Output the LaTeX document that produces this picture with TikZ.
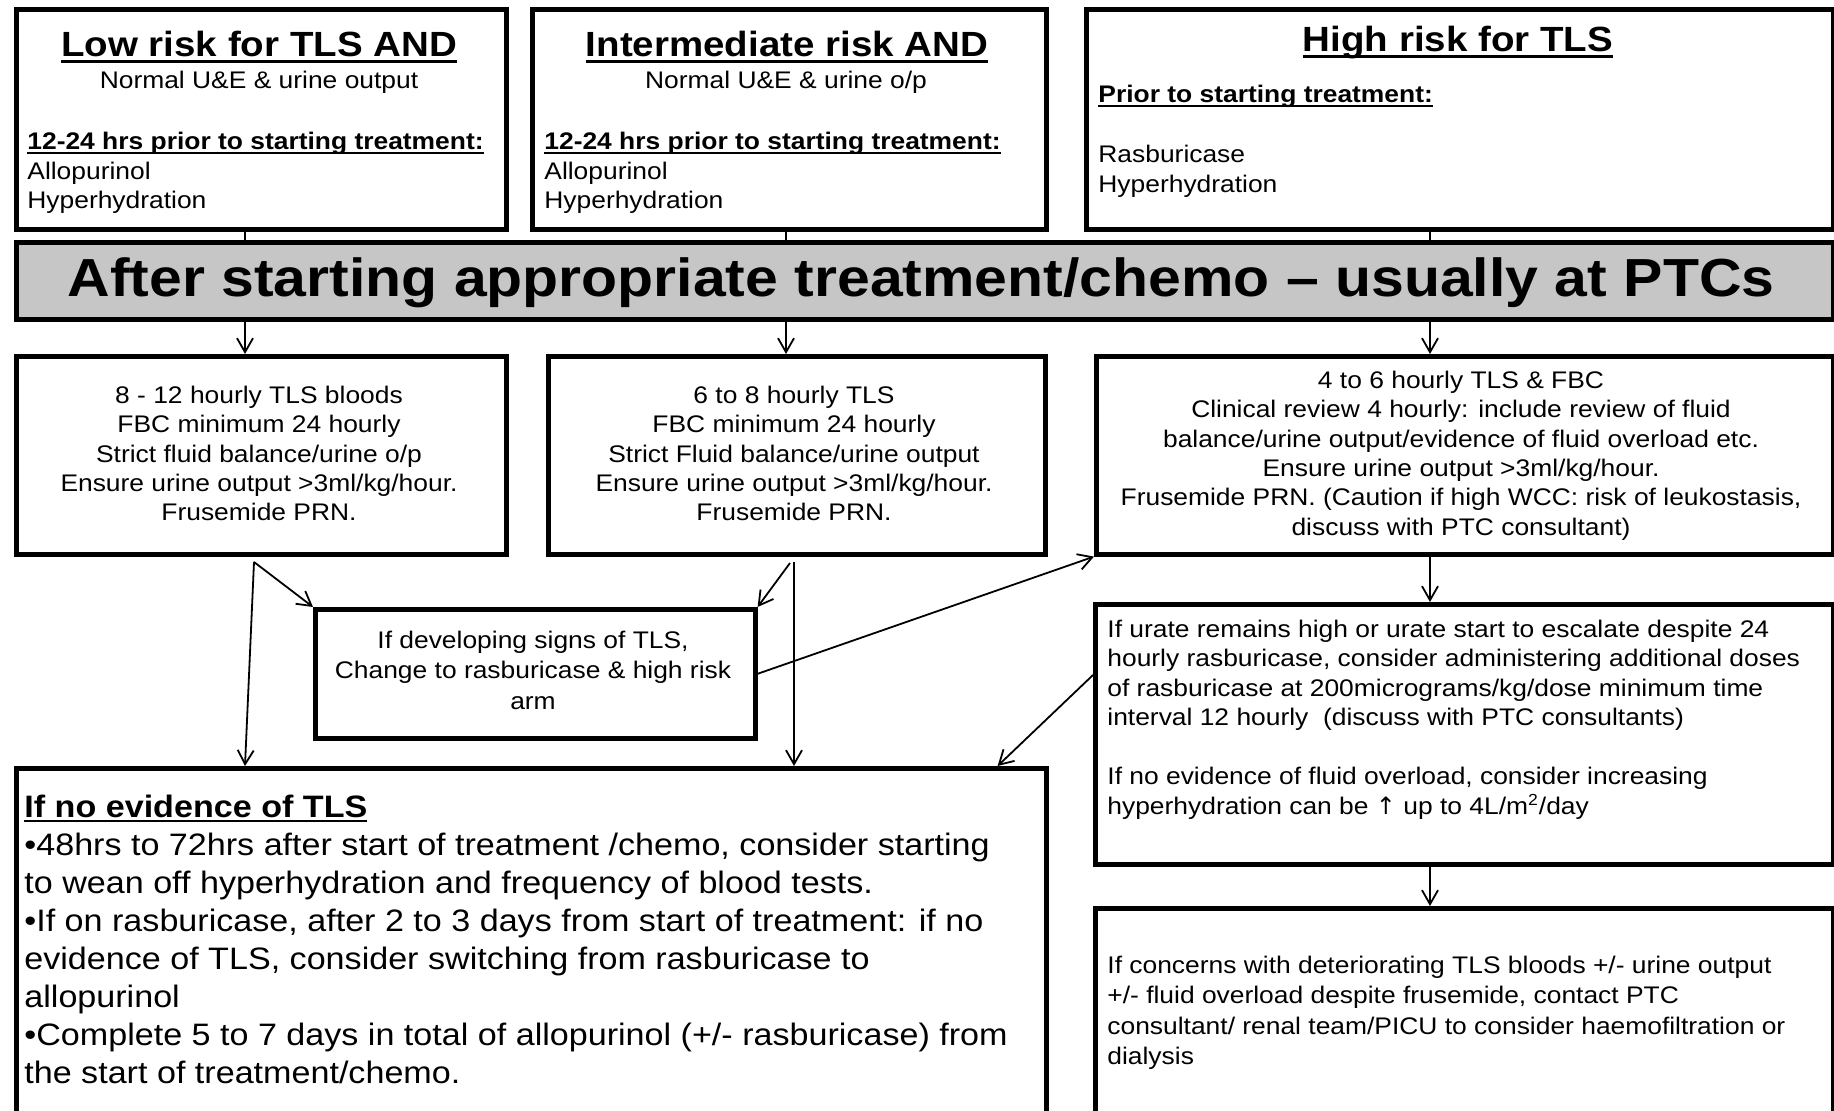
\documentclass[tikz,border=0pt]{standalone}
\usepackage{fontspec}
\setmainfont{Liberation Sans}[FakeStretch=1.1]
\newfontfamily\symfont{DejaVu Sans}
\usetikzlibrary{arrows.meta,calc}

\definecolor{bannergray}{RGB}{198,198,198}

% underline sitting just below the baseline
\newcommand\undl[1]{\setbox0=\hbox{#1}\rlap{\rule[-0.16em]{\wd0}{0.08em}}\box0}
% fixes the height of the first line to exactly 1em
\newcommand\topst{\rule{0pt}{1em}}

\tikzset{
  box/.style={draw, line width=2.3pt, inner sep=0pt, anchor=north west, fill=white},
  txt/.style={inner sep=0pt, font=\fontsize{12pt}{14.65pt}\selectfont},
  boldtxt/.style={inner sep=0pt, font=\bfseries\fontsize{12pt}{14.65pt}\selectfont},
  titletxt/.style={inner sep=0pt, font=\bfseries\fontsize{17.5pt}{20pt}\selectfont},
  link/.style={line width=0.9pt},
  arr/.style={line width=0.9pt, -{Straight Barb[length=7pt,width=8pt,line width=0.9pt]}},
}

\begin{document}
\begin{tikzpicture}[x=0.5pt, y=-0.5pt]
\useasboundingbox (0,0) rectangle (1834,1111);
\fill[white] (0,0) rectangle (1834,1111);
\clip (0,0) rectangle (1834,1111);

% ---- risk groups ----
\node[box, minimum width=245pt, minimum height=110pt] (lowtop) at (14,7) {};
\node[box, minimum width=257pt, minimum height=110pt] (midtop) at (530,7) {};
\node[box, minimum width=373.5pt, minimum height=110pt] (hightop) at (1084,7) {};

% ---- banner ----
\node[box, fill=bannergray, minimum width=908.5pt, minimum height=38.5pt] (banner) at (14,240) {};

% ---- monitoring ----
\node[box, minimum width=245pt, minimum height=99pt] (lowmon) at (14,354) {};
\node[box, minimum width=248.5pt, minimum height=99pt] (midmon) at (546,354) {};
\node[box, minimum width=368.5pt, minimum height=99pt] (highmon) at (1094,354) {};

% ---- escalation and step-down ----
\node[box, minimum width=220pt, minimum height=64.5pt] (signs) at (313,607) {};
\node[box, minimum width=369pt, minimum height=130pt] (escal) at (1093,602) {};
\node[box, minimum width=515pt, minimum height=190pt] (wean) at (14,766) {};
\node[box, minimum width=369pt, minimum height=120pt] (renal) at (1093,906) {};

% ---- connectors ----
\coordinate (x1) at (245,0);
\coordinate (x2) at (786,0);
\coordinate (x3) at (1430,0);
\draw[link] (lowtop.south -| x1) -- (banner.north -| x1);
\draw[link] (midtop.south -| x2) -- (banner.north -| x2);
\draw[link] (hightop.south -| x3) -- (banner.north -| x3);
\draw[arr] (banner.south -| x1) -- (lowmon.north -| x1);
\draw[arr] (banner.south -| x2) -- (midmon.north -| x2);
\draw[arr] (banner.south -| x3) -- (highmon.north -| x3);
\draw[arr] (highmon.south -| x3) -- (escal.north -| x3);
\draw[arr] (escal.south -| x3) -- (renal.north -| x3);

\coordinate (lf) at (254,562);
\draw[arr] (lf) -- (signs.north west);
\draw[arr] (lf) -- ($(wean.north west)+(231,0)$);
\coordinate (mf) at (790,563);
\coordinate (mv) at (794,562);
\draw[arr] (mf) -- (signs.north east);
\draw[arr] (mv) -- (mv |- wean.north);
\draw[arr] (signs.east) -- (highmon.south west);
\draw[arr] ($(escal.north west)+(0,73)$) -- ($(wean.north east)+(-51,0)$);

% ---- texts: risk groups ----
\node[titletxt, anchor=base] (lowtitle) at (259,57) {\undl{Low risk for TLS AND}};
\node[txt, anchor=base] (lowcond) at (259,89) {Normal U\&E \& urine output};
\node[boldtxt, anchor=base west] (lowprior) at (27,150) {\undl{12-24 hrs prior to starting treatment:}};
\node[txt, anchor=north west, align=left, font=\fontsize{12pt}{14.5pt}\selectfont] (lowdrugs) at (27,155) {\topst Allopurinol\\Hyperhydration};

\node[titletxt, anchor=base] (midtitle) at (787,57) {\undl{Intermediate risk AND}};
\node[txt, anchor=base] (midcond) at (786,89) {Normal U\&E \& urine o/p};
\node[boldtxt, anchor=base west] (midprior) at (544,150) {\undl{12-24 hrs prior to starting treatment:}};
\node[txt, anchor=north west, align=left, font=\fontsize{12pt}{14.5pt}\selectfont] (middrugs) at (544,155) {\topst Allopurinol\\Hyperhydration};

\node[titletxt, anchor=base] (hightitle) at (1458,52) {\undl{High risk for TLS}};
\node[boldtxt, anchor=base west] (highprior) at (1098,103) {\undl{Prior to starting treatment:}};
\node[txt, anchor=north west, align=left, font=\fontsize{12pt}{15pt}\selectfont] (highdrugs) at (1098,138) {\topst Rasburicase\\Hyperhydration};

\node[inner sep=0pt, anchor=base, font=\bfseries\fontsize{26.8pt}{30pt}\selectfont] (bannertext) at (921,297)
  {After starting appropriate treatment/chemo – usually at PTCs};

% ---- texts: monitoring ----
\node[txt, anchor=north, align=center] (lowmontext) at (259,379)
  {\topst 8 - 12 hourly TLS bloods\\FBC minimum 24 hourly\\Strict fluid balance/urine o/p\\Ensure urine output >3ml/kg/hour.\\Frusemide PRN.};
\node[txt, anchor=north, align=center] (midmontext) at (794,379)
  {\topst 6 to 8 hourly TLS\\FBC minimum 24 hourly\\Strict Fluid balance/urine output\\Ensure urine output >3ml/kg/hour.\\Frusemide PRN.};
\node[txt, anchor=north, align=center, font=\fontsize{12pt}{14.7pt}\selectfont] (highmontext) at (1461,364)
  {\topst 4 to 6 hourly TLS \& FBC\\Clinical review 4 hourly: include review of fluid\\balance/urine output/evidence of fluid overload etc.\\Ensure urine output >3ml/kg/hour.\\Frusemide PRN. (Caution if high WCC: risk of leukostasis,\\discuss with PTC consultant)};

% ---- texts: escalation and step-down ----
\node[txt, anchor=north, align=center, font=\fontsize{12pt}{15.25pt}\selectfont] (signstext) at (533,624)
  {\topst If developing signs of TLS,\\Change to rasburicase \& high risk\\arm};
\node[txt, anchor=north west, align=left, font=\fontsize{12pt}{14.75pt}\selectfont] (escaltext) at (1107,613)
  {\topst If urate remains high or urate start to escalate despite 24\\hourly rasburicase, consider administering additional doses\\of rasburicase at 200micrograms/kg/dose minimum time\\interval 12 hourly\ \ (discuss with PTC consultants)\\[14.75pt]If no evidence of fluid overload, consider increasing\\hyperhydration can be {\symfont ↑} up to 4L/m\textsuperscript{2}/day};
\node[txt, anchor=north west, align=left, font=\fontsize{12pt}{15.15pt}\selectfont] (renaltext) at (1107,949)
  {\topst If concerns with deteriorating TLS bloods +/- urine output\\+/- fluid overload despite frusemide, contact PTC\\consultant/ renal team/PICU to consider haemofiltration or\\dialysis};
\node[inner sep=0pt, anchor=north west, align=left, font=\fontsize{15.5pt}{19pt}\selectfont] (weantext) at (24,786)
  {\topst{\bfseries\undl{If no evidence of TLS}}\\•48hrs to 72hrs after start of treatment /chemo, consider starting\\to wean off hyperhydration and frequency of blood tests.\\•If on rasburicase, after 2 to 3 days from start of treatment: if no\\evidence of TLS, consider switching from rasburicase to\\allopurinol\\•Complete 5 to 7 days in total of allopurinol (+/- rasburicase) from\\the start of treatment/chemo.};
\end{tikzpicture}
\end{document}
